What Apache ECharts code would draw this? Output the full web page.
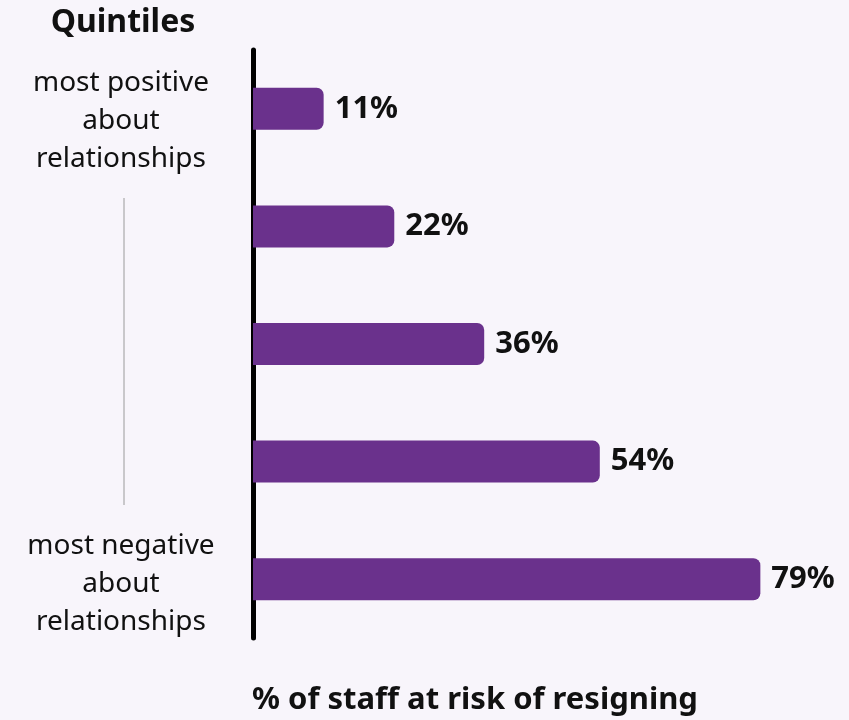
<!DOCTYPE html>
<html>
<head>
<meta charset="utf-8">
<script src="https://cdn.jsdelivr.net/npm/echarts@6/dist/echarts.min.js"></script>
<style>
html,body{margin:0;padding:0;background:#f8f5fb;}
#c{width:849px;height:720px;}
</style>
</head>
<body>
<div id="c"></div>
<script>
const categories = ["most positive\nabout\nrelationships", "q2", "q3", "q4", "most negative\nabout\nrelationships"];
const values = [11, 22, 36, 54, 79];
const valueLabels = ["11%", "22%", "36%", "54%", "79%"];
const axisTitle = "Quintiles";
const xTitle = "% of staff at risk of resigning";

const FONT = "Noto Sans";
const chart = echarts.init(document.getElementById('c'));
chart.setOption({
  backgroundColor: '#f8f5fb',
  animation: false,
  title: [
    { text: axisTitle, left: 118, top: 2, textAlign: 'center',
      textStyle: { fontFamily: FONT, fontSize: 32, fontWeight: 'bold', color: '#111' } },
    { text: xTitle, left: 470, top: 680, textAlign: 'center',
      textStyle: { fontFamily: FONT, fontSize: 31, fontWeight: 'bold', color: '#111' } }
  ],
  grid: { left: 253, right: 18, top: 50, bottom: 82 },
  xAxis: {
    type: 'value', min: 0, max: 90,
    show: false
  },
  yAxis: {
    type: 'category',
    inverse: true,
    data: categories,
    axisLine: { show: true, lineStyle: { color: '#000', width: 5 } },
    axisTick: { show: false },
    axisLabel: {
      margin: 132,
      align: 'center',
      interval: 0,
      fontFamily: FONT,
      fontSize: 28,
      color: '#111',
      lineHeight: 38,
      formatter: function (v, i) {
        const p = v.split('\n');
        if (i === 0) { return '{s| }\n{t|' + p.join('}\n{t|') + '}'; }
        if (i === 4) { return '{u| }\n{t|' + p.join('}\n{t|') + '}'; }
        return '';
      },
      rich: {
        s: { fontSize: 10, lineHeight: 24 },
        u: { fontSize: 10, lineHeight: 10 },
        t: { fontFamily: FONT, fontSize: 28, color: '#111', lineHeight: 38 }
      }
    }
  },
  graphic: [
    { type: 'line', shape: { x1: 124, y1: 198, x2: 124, y2: 505 },
      style: { stroke: '#9a9a9a', lineWidth: 1 } }
  ],
  series: [{
    type: 'bar',
    data: values,
    barWidth: 42,
    itemStyle: { color: '#6a318c', borderRadius: [0, 7, 7, 0] },
    label: {
      show: true, position: 'right', distance: 11,
      formatter: function (p) { return valueLabels[p.dataIndex]; },
      fontFamily: FONT, fontSize: 31, fontWeight: 'bold', color: '#111'
    }
  }]
});
</script>
</body>
</html>
